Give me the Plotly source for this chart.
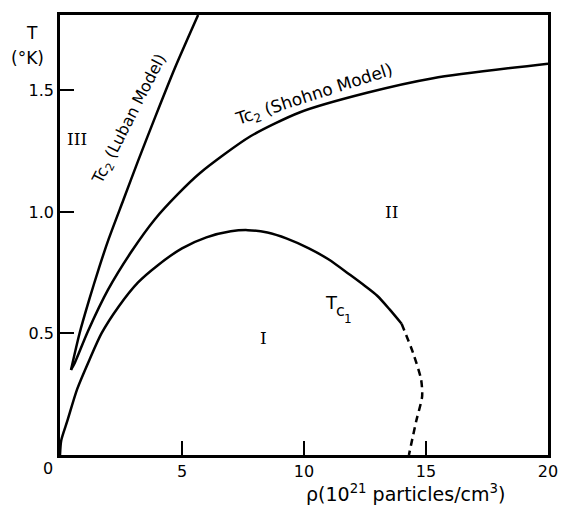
import plotly.graph_objects as go

# Data
luban_x = [0.45, 0.8, 1.2, 1.6, 2.0, 2.6, 3.2, 3.9, 4.7, 5.66]
luban_y = [0.35, 0.50, 0.64, 0.77, 0.89, 1.05, 1.21, 1.39, 1.59, 1.81]

shohno_x = [0.45, 0.61, 1.15, 1.97, 2.95, 3.89, 4.8, 5.74, 7.79, 9.84, 12.58, 15.29, 20.0]
shohno_y = [0.35, 0.38, 0.51, 0.68, 0.84, 0.97, 1.07, 1.16, 1.31, 1.41, 1.49, 1.55, 1.61]

tc1_x = [0.0, 0.05, 0.3, 0.7, 1.2, 1.7, 2.4, 3.2, 4.0, 5.0, 6.0, 7.0, 7.7,
         8.5, 9.3, 10.2, 11.0, 11.9, 12.5, 13.0, 13.5, 14.0]
tc1_y = [0.0, 0.06, 0.14, 0.27, 0.39, 0.50, 0.61, 0.71, 0.78, 0.85, 0.895, 0.92, 0.925,
         0.915, 0.89, 0.85, 0.805, 0.74, 0.695, 0.655, 0.60, 0.54]

tc1_dash_x = [14.0, 14.47, 14.8, 14.84, 14.6, 14.3]
tc1_dash_y = [0.54, 0.42, 0.31, 0.24, 0.14, 0.0]

x_ticks = [5, 10, 15, 20]
x_tick_labels = ["5", "10", "15", "20"]
y_ticks = [0.5, 1.0, 1.5]
y_tick_labels = ["0.5", "1.0", "1.5"]

sm = 0.7
fig = go.Figure()
fig.add_trace(go.Scatter(x=luban_x, y=luban_y, mode="lines",
                         line=dict(color="black", width=2.5, shape="spline", smoothing=sm)))
fig.add_trace(go.Scatter(x=shohno_x, y=shohno_y, mode="lines",
                         line=dict(color="black", width=2.5, shape="spline", smoothing=sm)))
fig.add_trace(go.Scatter(x=tc1_x, y=tc1_y, mode="lines",
                         line=dict(color="black", width=2.5, shape="spline", smoothing=sm)))
fig.add_trace(go.Scatter(x=tc1_dash_x, y=tc1_dash_y, mode="lines",
                         line=dict(color="black", width=2.5, dash="7px,5px", shape="spline", smoothing=sm)))

sans = "DejaVu Sans"
serif = "DejaVu Serif"

L, R, T, B = 60, 14, 15, 55
W, H = 562, 510
pw, ph = W - L - R, H - T - B


def px_ann(px, py, text, size, family=sans, angle=0):
    return dict(x=(px - L) / pw, y=(H - B - py) / ph, xref="paper", yref="paper",
                xanchor="center", yanchor="middle", text=text, showarrow=False,
                textangle=angle, font=dict(family=family, size=size, color="black"))


def data_ann(x, y, text, size, family=sans, angle=0):
    return dict(x=x, y=y, xref="x", yref="y", xanchor="center", yanchor="middle",
                text=text, showarrow=False, textangle=angle,
                font=dict(family=family, size=size, color="black"))


ann = [
    px_ann(48, 468, "0", 16),
    px_ann(405, 493, "ρ(10<sup>21</sup> particles/cm<sup>3</sup>)", 19),
    px_ann(32, 33, "T", 17),
    px_ann(27, 58, "(°K)", 17),
    data_ann(0.7, 1.3, "III", 17, serif),
    data_ann(13.6, 1.0, "II", 17, serif),
    data_ann(8.35, 0.48, "I", 17, serif),
    px_ann(331, 302, "T", 18),
    px_ann(340, 310, "c", 16),
    px_ann(348, 319, "1", 12),
    data_ann(2.85, 1.38, "Tc<sub>2</sub> (Luban Model)", 16, angle=-63),
    data_ann(10.4, 1.48, "Tc<sub>2</sub> (Shohno Model)", 17, angle=-18),
]

fig.update_layout(
    width=W, height=H,
    margin=dict(l=L, r=R, t=T, b=B, autoexpand=False),
    paper_bgcolor="white", plot_bgcolor="white",
    showlegend=False,
    annotations=ann,
    xaxis=dict(range=[0, 20], showgrid=False, zeroline=False, showline=True, mirror=True,
               automargin=False,
               linecolor="black", linewidth=2.5, ticks="inside", ticklen=14, tickwidth=2,
               tickcolor="black", tickvals=x_ticks, ticktext=x_tick_labels,
               tickfont=dict(family=sans, size=16, color="black")),
    yaxis=dict(range=[0, 1.81], showgrid=False, zeroline=False, showline=True, mirror=True,
               automargin=False,
               linecolor="black", linewidth=2.5, ticks="inside", ticklen=14, tickwidth=2,
               tickcolor="black", tickvals=y_ticks, ticktext=y_tick_labels,
               tickfont=dict(family=sans, size=16, color="black")),
)
fig.write_html("out.html")
